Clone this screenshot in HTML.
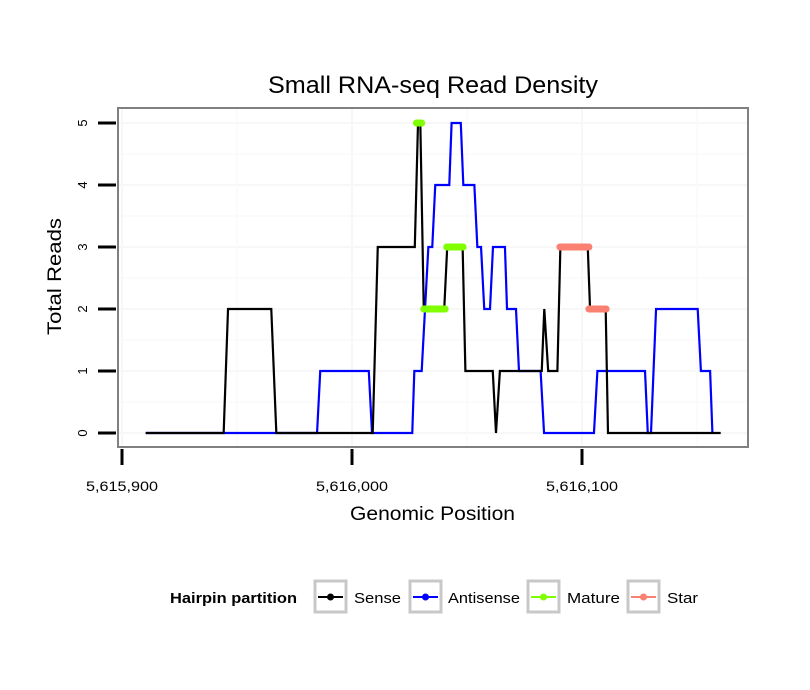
<!DOCTYPE html>
<html><head><meta charset="utf-8"><style>
body{margin:0;background:#fff}
svg{display:block;font-family:"Liberation Sans",sans-serif}
</style></head><body>
<svg id="chart" width="810" height="690">
<rect width="810" height="690" fill="#fff"/>
<text x="268" y="93" textLength="330" lengthAdjust="spacingAndGlyphs" font-size="24">Small RNA-seq Read Density</text>
<rect x="118" y="108" width="630" height="339" fill="#fff" stroke="#808080" stroke-width="2"/>
<g id="grid"></g>
<g id="marks"></g>
<g id="axes"></g>
<text x="350" y="520" textLength="165" lengthAdjust="spacingAndGlyphs" font-size="19">Genomic Position</text>
<text transform="translate(61,335) rotate(-90)" textLength="117" lengthAdjust="spacingAndGlyphs" font-size="19">Total Reads</text>
<g>
<text x="170" y="603" textLength="127" lengthAdjust="spacingAndGlyphs" font-size="15" font-weight="bold">Hairpin partition</text>
<g><rect x="315" y="581" width="31" height="31" fill="#fff" stroke="#c8c8c8" stroke-width="3"/><line x1="318" y1="597" x2="343" y2="597" stroke="#000" stroke-width="2"/><circle cx="330.5" cy="597" r="3.5" fill="#000"/><text x="354" y="603" textLength="47" lengthAdjust="spacingAndGlyphs" font-size="15">Sense</text></g>
<g><rect x="410" y="581" width="31" height="31" fill="#fff" stroke="#c8c8c8" stroke-width="3"/><line x1="413" y1="597" x2="438" y2="597" stroke="#0000ff" stroke-width="2"/><circle cx="425.5" cy="597" r="3.5" fill="#0000ff"/><text x="448" y="603" textLength="72" lengthAdjust="spacingAndGlyphs" font-size="15">Antisense</text></g>
<g><rect x="528" y="581" width="31" height="31" fill="#fff" stroke="#c8c8c8" stroke-width="3"/><line x1="531" y1="597" x2="556" y2="597" stroke="#7fff00" stroke-width="2"/><circle cx="543.5" cy="597" r="3.5" fill="#7fff00"/><text x="567" y="603" textLength="53" lengthAdjust="spacingAndGlyphs" font-size="15">Mature</text></g>
<g><rect x="628" y="581" width="31" height="31" fill="#fff" stroke="#c8c8c8" stroke-width="3"/><line x1="631" y1="597" x2="656" y2="597" stroke="#fa8072" stroke-width="2"/><circle cx="643.5" cy="597" r="3.5" fill="#fa8072"/><text x="667" y="603" textLength="31" lengthAdjust="spacingAndGlyphs" font-size="15">Star</text></g>
</g>
</svg>
<script>
const senseX=[5615910.3,5615944.2,5615946.1,5615964.9,5615967.1,5616009.0,5616011.2,5616027.3,5616028.7,5616029.7,5616031.2,5616040.1,5616041.4,5616048.1,5616049.3,5616061.2,5616062.6,5616064.3,5616082.5,5616083.6,5616085.3,5616089.3,5616090.6,5616102.5,5616103.5,5616110.3,5616111.3,5616160.3];
const senseY=[0,0,2,2,0,0,3,3,5,5,2,2,3,3,1,1,0,1,1,2,1,1,3,3,2,2,0,0];
const antiX=[5615910.3,5615984.8,5615986.2,5616007.3,5616008.7,5616026.2,5616027.1,5616030.3,5616033.2,5616034.9,5616036.2,5616042.3,5616043.3,5616047.3,5616048.4,5616053.2,5616054.5,5616056.1,5616057.5,5616060.0,5616061.3,5616066.5,5616067.4,5616071.3,5616072.6,5616082.0,5616083.5,5616105.2,5616106.7,5616127.4,5616128.6,5616130.0,5616132.2,5616150.3,5616151.7,5616155.7,5616156.7];
const antiY=[0,0,1,1,0,0,1,1,3,3,4,4,5,5,4,4,3,3,2,2,3,3,2,2,1,1,0,0,1,1,0,0,2,2,1,1,0];
const matureStart=[5616028.0,5616031.2,5616041.2];
const matureEnd=[5616030.3,5616040.5,5616048.3];
const matureVal=[5,2,3];
const starStart=[5616090.4,5616103.0];
const starEnd=[5616103.0,5616110.5];
const starVal=[3,2];
const xTicks=[5615900,5616000,5616100];
const xTickLabels=["5,615,900","5,616,000","5,616,100"];
const yTicks=[0,1,2,3,4,5];

const NS='http://www.w3.org/2000/svg';
const sx=v=>122+(v-5615900)*2.3;
const sy=v=>433-v*62;
function mk(tag,attrs,parent){const e=document.createElementNS(NS,tag);for(const k in attrs)e.setAttribute(k,attrs[k]);parent.appendChild(e);return e;}
const grid=document.getElementById('grid'),marks=document.getElementById('marks'),axes=document.getElementById('axes');
for(let v=-0.5;v<=5.5;v+=0.5){const y=sy(v);if(y<110||y>445)continue;const g=mk('line',{x1:119,x2:747,y1:y,y2:y,stroke:Number.isInteger(v)?'#f7f7f7':'#fafafa','stroke-width':Number.isInteger(v)?2:1.5},grid);

}
for(let v=5615850;v<=5616200;v+=50){const x=sx(v);if(x<120||x>746)continue;const g=mk('line',{x1:x,x2:x,y1:109,y2:446,stroke:v%100===0?'#f7f7f7':'#fafafa','stroke-width':v%100===0?2:1.5},grid);

}
function poly(xs,ys,color,name){const p=mk('polyline',{points:xs.map((x,i)=>sx(x)+','+sy(ys[i])).join(' '),fill:'none',stroke:color,'stroke-width':2.2,'stroke-linejoin':'miter'},marks);

}
poly(antiX,antiY,'#0000ff','antisense-line');
poly(senseX,senseY,'#000','sense-line');
function segs(s,e,v,color,name){for(let i=0;i<s.length;i++){const l=mk('line',{x1:sx(s[i]),x2:sx(e[i]),y1:sy(v[i]),y2:sy(v[i]),stroke:color,'stroke-width':7,'stroke-linecap':'round'},marks);

}}
segs(matureStart,matureEnd,matureVal,'#7fff00','mature-segment');
segs(starStart,starEnd,starVal,'#fa8072','star-segment');
xTicks.forEach((v,i)=>{const x=sx(v);const t=mk('line',{x1:x,x2:x,y1:449,y2:465,stroke:'#000','stroke-width':3},axes);


const l=mk('text',{x:x-36,y:491,textLength:72,lengthAdjust:'spacingAndGlyphs','font-size':14},axes);l.textContent=xTickLabels[i];

});
yTicks.forEach(v=>{const y=sy(v);const t=mk('line',{x1:98,x2:116,y1:y,y2:y,stroke:'#000','stroke-width':3},axes);


const l=mk('text',{transform:`translate(87,${y}) rotate(-90)`,'text-anchor':'middle','font-size':13},axes);l.textContent=v;

});
</script>
</body></html>
